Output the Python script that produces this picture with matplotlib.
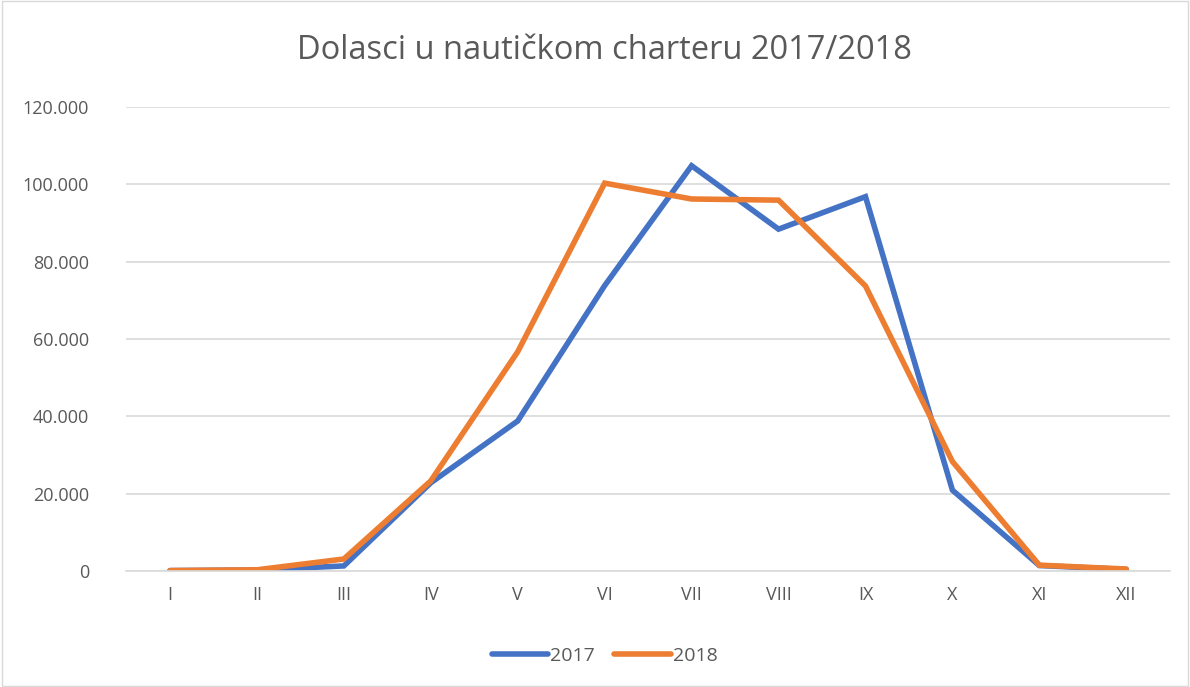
import matplotlib
matplotlib.use('Agg')
import matplotlib.pyplot as plt
from matplotlib.ticker import FuncFormatter

# Monthly arrivals in nautical charter
months = ['I', 'II', 'III', 'IV', 'V', 'VI', 'VII', 'VIII', 'IX', 'X', 'XI', 'XII']
arrivals_2017 = [100, 250, 1300, 22800, 38800, 73800, 104800, 88400, 96800, 20900, 1400, 400]
arrivals_2018 = [100, 300, 3100, 23300, 56700, 100300, 96200, 95900, 73700, 28300, 1500, 500]

text_color = '#595959'
plt.rcParams['font.family'] = ['Open Sans', 'DejaVu Sans']

fig = plt.figure(figsize=(11.9, 6.87), dpi=100)
ax = fig.add_axes([0.1063, 0.1689, 0.8767, 0.6754])

x = list(range(len(months)))
ax.plot(x, arrivals_2017, color='#4472C4', linewidth=4, solid_capstyle='round',
        solid_joinstyle='miter', label='2017')
ax.plot(x, arrivals_2018, color='#ED7D31', linewidth=4, solid_capstyle='round',
        solid_joinstyle='miter', label='2018')

ax.set_xlim(-0.5, len(months) - 0.5)
ax.set_ylim(0, 120000)
ax.set_yticks(range(0, 120001, 20000))
ax.yaxis.set_major_formatter(FuncFormatter(lambda v, p: f'{int(v):,}'.replace(',', '.')))
ax.set_xticks(x)
ax.set_xticklabels(months)

ax.grid(axis='y', color='#D9D9D9', linewidth=1.2)
ax.set_axisbelow(True)
for side in ['top', 'right', 'left']:
    ax.spines[side].set_visible(False)
ax.spines['bottom'].set_color('#D9D9D9')
ax.spines['bottom'].set_linewidth(1.2)
ax.tick_params(axis='both', length=0, labelsize=13, colors=text_color, pad=11)
ax.tick_params(axis='y', pad=27)
for lbl in ax.get_yticklabels():
    lbl.set_horizontalalignment('right')

fig.text(0.508, 0.927, 'Dolasci u nautičkom charteru 2017/2018', ha='center', va='center',
         fontsize=23.5, color=text_color)

leg = fig.legend(loc='center', bbox_to_anchor=(0.508, 0.045), ncol=2, frameon=False,
                 fontsize=14, handlelength=2.9, handletextpad=0.1, columnspacing=1.0)
for t in leg.get_texts():
    t.set_color(text_color)

# outer chart border
fig.patches.append(plt.Rectangle((0.002, 0.002), 0.996, 0.996, transform=fig.transFigure,
                                 fill=False, edgecolor='#D9D9D9', linewidth=1))

fig.savefig('out.png', dpi=100)
